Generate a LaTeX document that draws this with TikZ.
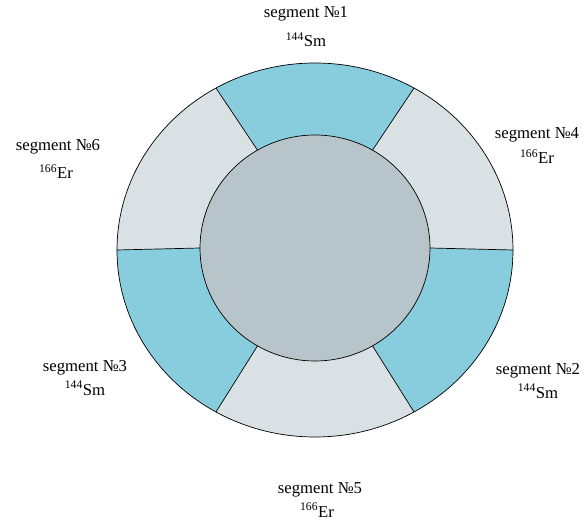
\documentclass[tikz,border=0pt]{standalone}
\usepackage{fontspec}
\setmainfont{Liberation Serif}
\usetikzlibrary{calc}
\definecolor{segblue}{RGB}{136,205,222}
\definecolor{seggray}{RGB}{217,225,228}
\definecolor{coregray}{RGB}{183,196,201}
\newcommand{\segpiece}[3]{%
  \fill[#1] ($(oc)+(#2:198 and 187)$) arc[start angle=#2,end angle=#3,x radius=198,y radius=187]
    -- ($(ic)+(#3:115 and 113)$) arc[start angle=#3,end angle=#2,x radius=115,y radius=113] -- cycle;}
\begin{document}
\begin{tikzpicture}[x=1pt,y=1pt,
  lbl/.style={anchor=base,inner sep=0pt,font=\fontsize{16.7}{20}\selectfont},
  edge/.style={draw=black,line width=0.7pt}]
\useasboundingbox (0,0) rectangle (583,522);
\coordinate (oc) at (315,272);
\coordinate (ic) at (315,274);
\segpiece{seggray}{0}{60}
\segpiece{segblue}{60}{120}
\segpiece{seggray}{120}{180}
\segpiece{segblue}{180}{240}
\segpiece{seggray}{240}{300}
\segpiece{segblue}{300}{360}
\foreach \a in {0,60,...,300}{
  \draw[edge] ($(oc)+(\a:198 and 187)$) -- ($(ic)+(\a:115 and 113)$);}
\draw[edge] (oc) ellipse[x radius=198,y radius=187];
\draw[edge,fill=coregray] (ic) ellipse[x radius=115,y radius=113];
% labels
\node[lbl] (s1) at (306,504) {segment №1};
\node[lbl] (i1) at (306,475) {\textsuperscript{144}Sm};
\node[lbl] (s4) at (537,383) {segment №4};
\node[lbl] (i4) at (537,358) {\textsuperscript{166}Er};
\node[lbl] (s6) at (58,371) {segment №6};
\node[lbl] (i6) at (56,343) {\textsuperscript{166}Er};
\node[lbl] (s3) at (85,150) {segment №3};
\node[lbl] (i3) at (85,127) {\textsuperscript{144}Sm};
\node[lbl] (s2) at (538,147) {segment №2};
\node[lbl] (i2) at (538,124) {\textsuperscript{144}Sm};
\node[lbl] (s5) at (320,29) {segment №5};
\node[lbl] (i5) at (317,5) {\textsuperscript{166}Er};
\end{tikzpicture}
\end{document}
